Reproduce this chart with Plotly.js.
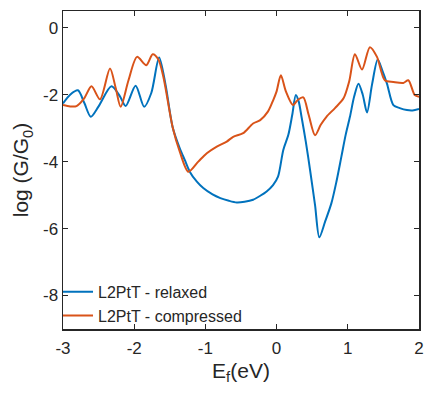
<!DOCTYPE html>
<html><head><meta charset="utf-8">
<script src="https://cdn.plot.ly/plotly-3.0.1.min.js"></script>
<style>html,body{margin:0;padding:0;background:#fff}#c{width:432px;height:396px}</style>
</head><body><div id="c"></div>
<script>
const relaxedE = [-3.0,-2.9,-2.79,-2.7,-2.61,-2.5,-2.32,-2.2,-2.12,-1.98,-1.86,-1.76,-1.65,-1.56,-1.46,-1.36,-1.29,-1.22,-1.12,-1.03,-0.9,-0.79,-0.67,-0.56,-0.45,-0.33,-0.23,-0.14,-0.05,0.02,0.094,0.165,0.22,0.27,0.31,0.35,0.41,0.47,0.54,0.60,0.68,0.77,0.84,0.91,0.97,1.03,1.09,1.15,1.21,1.27,1.34,1.42,1.48,1.55,1.64,1.73,1.83,1.91,2.0];
const relaxedG = [-2.26,-2.0,-1.87,-2.25,-2.66,-2.35,-1.75,-2.05,-2.34,-1.73,-2.36,-1.95,-0.89,-1.7,-2.97,-3.6,-3.95,-4.3,-4.6,-4.79,-4.98,-5.09,-5.17,-5.22,-5.2,-5.14,-5.02,-4.89,-4.7,-4.45,-3.65,-3.2,-2.6,-2.01,-2.2,-2.66,-3.4,-4.25,-5.3,-6.26,-5.8,-5.24,-4.6,-3.85,-3.2,-2.66,-2.05,-1.67,-2.0,-2.53,-1.7,-0.95,-1.25,-1.67,-2.31,-2.4,-2.46,-2.47,-2.43];
const compressedE = [-3.0,-2.9,-2.81,-2.7,-2.60,-2.48,-2.34,-2.26,-2.19,-2.08,-1.96,-1.83,-1.74,-1.66,-1.59,-1.46,-1.36,-1.24,-1.1,-0.98,-0.84,-0.70,-0.61,-0.47,-0.33,-0.23,-0.12,-0.047,0.0,0.06,0.13,0.23,0.3,0.375,0.45,0.54,0.62,0.70,0.82,0.94,1.02,1.10,1.20,1.31,1.41,1.52,1.64,1.78,1.85,1.94,2.0];
const compressedG = [-2.31,-2.35,-2.34,-2.1,-1.75,-2.14,-1.22,-1.8,-2.36,-1.57,-0.87,-1.12,-0.79,-0.95,-1.47,-2.97,-3.7,-4.30,-4.0,-3.75,-3.55,-3.40,-3.26,-3.15,-2.86,-2.76,-2.5,-2.16,-1.9,-1.42,-1.9,-2.31,-2.15,-2.08,-2.6,-3.21,-2.9,-2.66,-2.4,-2.11,-1.6,-0.79,-1.25,-0.58,-0.87,-1.57,-1.62,-1.65,-1.57,-2.01,-2.06];
const xTicks = [-3,-2,-1,0,1,2];
const xTickText = ['-3','-2','-1','0','1','2'];
const yTicks = [0,-2,-4,-6,-8];
const yTickText = ['0','-2','-4','-6','-8'];

const font = 'Liberation Sans, Arial, sans-serif';
const axisCommon = {
  showline:true, linecolor:'#262626', linewidth:1.5, mirror:'ticks',
  ticks:'inside', ticklen:5, tickwidth:1.2, tickcolor:'#262626',
  showgrid:false, zeroline:false, tickfont:{family:font,size:17,color:'#262626'}
};
const data = [
  {x:relaxedE, y:relaxedG, type:'scatter', mode:'lines', name:'L2PtT - relaxed',
   line:{color:'#0072BD', width:2, shape:'spline', smoothing:0.8}},
  {x:compressedE, y:compressedG, type:'scatter', mode:'lines', name:'L2PtT - compressed',
   line:{color:'#D95319', width:2, shape:'spline', smoothing:0.8}}
];
const layout = {
  width:432, height:396,
  margin:{l:63, r:13, t:11, b:67},
  paper_bgcolor:'#fff', plot_bgcolor:'#fff',
  showlegend:true,
  legend:{x:-0.014, y:-0.012, xanchor:'left', yanchor:'bottom', bgcolor:'rgba(0,0,0,0)',
    font:{family:font, size:16, color:'#262626'}, itemwidth:30, tracegroupgap:0},
  xaxis:Object.assign({}, axisCommon, {range:[-3,2], tickvals:xTicks, ticktext:xTickText,
    ticklabelstandoff:3,
    title:{text:'E<sub>f</sub>(eV)', font:{family:font,size:21,color:'#262626'}, standoff:6}}),
  yaxis:Object.assign({}, axisCommon, {range:[-9,0.5], tickvals:yTicks, ticktext:yTickText,
    title:{text:'log (G/G<sub>0</sub>)', font:{family:font,size:21,color:'#262626'}, standoff:8}})
};
Plotly.newPlot('c', data, layout, {staticPlot:true, displayModeBar:false});
</script></body></html>
